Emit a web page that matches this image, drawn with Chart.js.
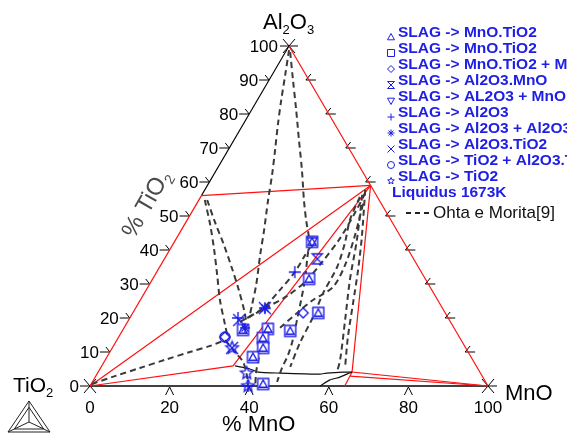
<!DOCTYPE html>
<html>
<head>
<meta charset="utf-8">
<script src="https://cdn.jsdelivr.net/npm/chart.js@4.4.1/dist/chart.umd.min.js"></script>
<style>
  html, body { margin: 0; padding: 0; background: #fff; }
</style>
</head>
<body>
<canvas id="myChart" width="567" height="436"></canvas>
<script>
// compositions are [MnO %, Al2O3 %] (TiO2 is the rest)
const FONT = '"Liberation Sans", Arial, sans-serif';
const BLUE = '#1e1ee6';

const leftLabels = [0, 10, 20, 30, 40, 50, 60, 70, 80, 90, 100];
const edgeTicks = [10, 20, 30, 40, 50, 60, 70, 80, 90];
const bottomLabels = [0, 20, 40, 60, 80, 100];
const bottomTicks = [20, 40, 60, 80];

const vTiO2 = [0, 0];
const vMnO = [100, 0];
const vAl2O3 = [0, 100];
const al2tio5 = [0, 56];
const mnal2o4 = [41, 59];
const peritectic = [33, 5.9];
const spinelPt = [63.8, 4.1];
const spinelPt2 = [63.9, 2.9];
const mn2tio4 = [64, 0];

const redLines = [
  [vTiO2, al2tio5],
  [vAl2O3, vMnO],
  [al2tio5, mnal2o4],
  [vTiO2, mnal2o4],
  [vTiO2, peritectic, mnal2o4],
  [mnal2o4, spinelPt, vMnO],
  [spinelPt, mn2tio4],
  [spinelPt2, vMnO]
];
const leftEdgeTop = [al2tio5, vAl2O3];
const bottomEdge = [vTiO2, vMnO];

const liquidusA = [[33.5, 5.9], [37.7, 5.0], [40.2, 4.1], [45.8, 3.8], [56.0, 3.5], [57.6, 3.8], [61.5, 4.1], [63.8, 4.1]];
const liquidusB = [[57.8, 0], [59.4, 1.8], [61.5, 2.6], [62.8, 3.5], [63.8, 4.1]];

// Ohta e Morita [9]
const ohta1 = [[0.6, 98.8], [3.3, 91.5], [6.0, 84.1], [8.8, 76.8], [11.8, 69.4], [14.7, 62.1], [17.4, 54.7], [20.8, 45.9], [23.5, 38.5], [26.9, 29.7], [28.8, 23.8], [30.0, 20.0]];
const ohta2 = [[1.2, 98.2], [6.0, 90.0], [11.2, 81.2], [16.3, 72.4], [21.5, 63.5], [26.4, 54.7], [29.9, 48.8], [33.6, 42.9], [36.0, 37.1], [38.4, 31.2], [40.4, 25.3], [42.3, 19.4], [44.2, 13.5], [45.2, 9.1], [45.6, 5.3], [46.4, 1.2]];
const ohta3 = [[1.5, 54.7], [6.5, 47.4], [11.2, 40.0], [15.6, 32.7], [20.0, 25.3], [25.0, 17.9], [27.6, 14.1]];
const ohta4 = [[2.1, 54.7], [7.3, 48.2], [12.9, 41.5], [18.3, 34.7], [23.3, 28.2], [27.5, 22.4], [29.5, 19.4]];
const ohta5 = [[0.2, 0.6], [4.8, 2.9], [9.9, 5.3], [15.0, 7.7], [20.1, 10.0], [24.3, 11.8], [27.2, 13.5]];
const ohta6 = [[27.2, 13.5], [31.4, 10.0], [34.9, 7.1], [37.8, 3.2], [39.7, 0]];
const ohta7 = [[29.5, 20.0], [32.9, 23.2], [36.3, 26.5], [38.7, 30.6], [40.1, 36.5], [41.1, 43.5], [41.1, 50.9], [40.8, 57.1]];
const ohta8 = [[39.2, 17.1], [41.3, 21.5], [43.4, 25.3], [46.5, 29.1], [46.3, 35.6], [44.4, 44.4], [41.5, 54.7]];
const ohta9 = [[40.3, 57.7], [46.4, 43.8], [50.3, 34.1], [53.9, 24.4], [57.6, 14.4], [61.3, 5.6]];
const ohta10 = [[40.3, 56.2], [45.6, 42.9], [49.7, 31.2], [54.4, 19.4], [59.0, 7.7], [60.0, 4.1]];
const ohta11 = [[40.0, 55.6], [40.9, 48.8], [43.0, 42.1], [44.6, 35.0], [44.9, 27.4], [45.9, 20.3], [46.4, 12.7], [47.5, 5.6]];
const ohta12 = [[28.3, 18.8], [32.0, 22.9], [33.6, 28.2], [34.7, 33.5], [34.8, 38.5], [35.0, 42.1]];
const ohta13 = [[36.3, 16.8], [36.7, 13.5], [38.2, 8.5], [39.7, 4.1], [41.5, 0]];

// experimental points
const trianglePts = [[34.6, 42.4], [39.3, 31.5], [36.3, 16.8], [42.2, 16.2], [46.6, 21.5], [30.2, 16.5], [36.4, 14.1], [37.9, 11.2], [36.7, 8.5], [43.2, 0.6]];
const squarePts = [[34.6, 42.4], [39.3, 31.5], [36.3, 16.8], [42.2, 16.2], [46.6, 21.5], [30.2, 16.5], [36.4, 14.1], [37.9, 11.2], [36.7, 8.5], [43.2, 0.6]];
const diamondPts = [[42.8, 21.5], [26.7, 14.4]];
const hourglassPts = [[38.4, 37.4]];
const invTrianglePts = [[34.6, 42.4]];
const plusPts = [[34.7, 33.5], [32.5, 22.9], [27.2, 20.0], [39.7, 0.0]];
const asteriskPts = [[32.5, 22.9], [30.4, 17.1]];
const crossPts = [[32.5, 22.9], [30.1, 11.2], [27.8, 19.4]];
const circlePts = [[26.7, 14.4]];
const starPts = [[30.1, 11.2], [37.5, 3.8], [39.7, 0.0]];

const legendItems = [
  ['triangle', 'SLAG -> MnO.TiO2'],
  ['rect', 'SLAG -> MnO.TiO2'],
  ['rectRot', 'SLAG -> MnO.TiO2 + MnO.Al2O3'],
  ['hourglass', 'SLAG -> Al2O3.MnO'],
  ['triangleDown', 'SLAG -> AL2O3 + MnO.Al2O3'],
  ['cross', 'SLAG -> Al2O3'],
  ['asterisk', 'SLAG -> Al2O3 + Al2O3.TiO2'],
  ['crossRot', 'SLAG -> Al2O3.TiO2'],
  ['circle', 'SLAG -> TiO2 + Al2O3.TiO2'],
  ['star5', 'SLAG -> TiO2'],
  [null, 'Liquidus 1673K']
];

const tern = p => ({ x: p[0] + p[1] / 2, y: p[1] });

function drawMarker(g, style, cx, cy, s) {
  g.beginPath();
  switch (style) {
    case 'triangle':
      g.moveTo(cx, cy - s); g.lineTo(cx + s, cy + s * 0.8); g.lineTo(cx - s, cy + s * 0.8); g.closePath(); break;
    case 'triangleDown':
      g.moveTo(cx, cy + s); g.lineTo(cx + s, cy - s * 0.8); g.lineTo(cx - s, cy - s * 0.8); g.closePath(); break;
    case 'rect':
      g.rect(cx - s, cy - s, 2 * s, 2 * s); g.fillStyle = '#fff'; g.fill(); break;
    case 'rectRot':
      g.moveTo(cx, cy - s); g.lineTo(cx + s, cy); g.lineTo(cx, cy + s); g.lineTo(cx - s, cy); g.closePath(); break;
    case 'hourglass':
      g.moveTo(cx - s, cy - s); g.lineTo(cx + s, cy - s); g.lineTo(cx - s, cy + s); g.lineTo(cx + s, cy + s); g.closePath(); break;
    case 'cross':
      g.moveTo(cx - s, cy); g.lineTo(cx + s, cy); g.moveTo(cx, cy - s); g.lineTo(cx, cy + s); break;
    case 'crossRot':
      g.moveTo(cx - s, cy - s); g.lineTo(cx + s, cy + s); g.moveTo(cx - s, cy + s); g.lineTo(cx + s, cy - s); break;
    case 'asterisk': {
      const d = s * 0.7;
      g.moveTo(cx - s, cy); g.lineTo(cx + s, cy); g.moveTo(cx, cy - s); g.lineTo(cx, cy + s);
      g.moveTo(cx - d, cy - d); g.lineTo(cx + d, cy + d); g.moveTo(cx - d, cy + d); g.lineTo(cx + d, cy - d); break;
    }
    case 'circle':
      g.arc(cx, cy, s, 0, Math.PI * 2); break;
    case 'star5':
      for (let i = 0; i < 10; i++) {
        const r = i % 2 ? s * 0.45 : s;
        const ang = -Math.PI / 2 + i * Math.PI / 5;
        const px = cx + r * Math.cos(ang), py = cy + r * Math.sin(ang);
        if (i === 0) g.moveTo(px, py); else g.lineTo(px, py);
      }
      g.closePath(); break;
  }
  g.stroke();
}

function icon(style, s) {
  const c = document.createElement('canvas');
  const n = Math.ceil(2 * s + 4);
  c.width = n; c.height = n;
  const g = c.getContext('2d');
  g.strokeStyle = BLUE; g.lineWidth = 1.4;
  drawMarker(g, style, n / 2, n / 2, s);
  return c;
}

function lineSet(pts, color, width, dash, tension, order) {
  return {
    data: pts.map(tern), showLine: true, borderColor: color, borderWidth: width,
    borderDash: dash || [], pointRadius: 0, tension: tension || 0, clip: false, fill: false, order: order
  };
}
function markSet(label, pts, style, s, order) {
  return { label: label, data: pts.map(tern), pointStyle: icon(style, s), pointRadius: 5, showLine: false, clip: false, order: order };
}

const datasets = [];
redLines.forEach(l => datasets.push(lineSet(l, '#ff1010', 1.2, null, 0, 5)));
datasets.push(lineSet(leftEdgeTop, '#000', 1.1, null, 0, 5));
datasets.push(lineSet(bottomEdge, '#000', 1.6, null, 0, 5));
datasets.push(lineSet(liquidusA, '#111', 1.2, null, 0.2, 4));
datasets.push(lineSet(liquidusB, '#111', 1.2, null, 0.2, 4));
[ohta1, ohta2, ohta3, ohta4, ohta5, ohta6, ohta7, ohta8, ohta9, ohta10, ohta11, ohta12, ohta13]
  .forEach(c => datasets.push(lineSet(c, '#3a3a3a', 2, [6, 4], 0.3, 3)));
datasets.push(markSet('SLAG -> MnO.TiO2', squarePts, 'rect', 5.5, 2));
datasets.push(markSet('SLAG -> MnO.TiO2', trianglePts, 'triangle', 4, 1));
datasets.push(markSet('SLAG -> MnO.TiO2 + MnO.Al2O3', diamondPts, 'rectRot', 5, 1));
datasets.push(markSet('SLAG -> Al2O3.MnO', hourglassPts, 'hourglass', 5, 1));
datasets.push(markSet('SLAG -> AL2O3 + MnO.Al2O3', invTrianglePts, 'triangleDown', 5, 1));
datasets.push(markSet('SLAG -> Al2O3', plusPts, 'cross', 6, 1));
datasets.push(markSet('SLAG -> Al2O3 + Al2O3.TiO2', asteriskPts, 'asterisk', 5, 1));
datasets.push(markSet('SLAG -> Al2O3.TiO2', crossPts, 'crossRot', 6, 1));
datasets.push(markSet('SLAG -> TiO2 + Al2O3.TiO2', circlePts, 'circle', 5, 1));
datasets.push(markSet('SLAG -> TiO2', starPts, 'star5', 6.5, 1));

function seg(ctx, x1, y1, x2, y2) {
  ctx.beginPath(); ctx.moveTo(x1, y1); ctx.lineTo(x2, y2); ctx.stroke();
}
function chem(ctx, parts, x, y, size) {
  let cx = x;
  parts.forEach(([t, sub]) => {
    ctx.font = (sub ? Math.round(size * 0.6) : size) + 'px ' + FONT;
    ctx.fillText(t, cx, sub ? y + size * 0.22 : y);
    cx += ctx.measureText(t).width;
  });
  return cx - x;
}

const decor = {
  id: 'decor',
  beforeDatasetsDraw(chart) {
    const ctx = chart.ctx, sx = chart.scales.x, sy = chart.scales.y;
    const P = (m, a) => [sx.getPixelForValue(m + a / 2), sy.getPixelForValue(a)];
    ctx.save();
    ctx.strokeStyle = '#000';
    ctx.lineWidth = 1;
    edgeTicks.forEach(a => {
      const [x, y] = P(0, a);
      seg(ctx, x - 10, y, x, y);
      seg(ctx, x - 4, y - 5, x, y);
      const [rx, ry] = P(100 - a, a);
      seg(ctx, rx - 3, ry, rx + 7, ry);
      seg(ctx, rx - 3, ry, rx + 2, ry - 6);
    });
    bottomTicks.forEach(m => {
      const [x, y] = P(m, 0);
      seg(ctx, x - 4, y + 9, x, y + 1);
      seg(ctx, x, y + 1, x + 4, y + 9);
    });
    [[vTiO2, -10, 0], [vAl2O3, -9, 9], [vMnO, 0, 9]].forEach(([v, l, r]) => {
      const [x, y] = P(v[0], v[1]);
      seg(ctx, x - 6, y - 7, x + 6, y + 7);
      seg(ctx, x - 6, y + 7, x + 6, y - 7);
      seg(ctx, x + l, y, x + r, y);
    });
    ctx.restore();
  },
  afterDraw(chart) {
    const ctx = chart.ctx, sx = chart.scales.x, sy = chart.scales.y;
    const P = (m, a) => [sx.getPixelForValue(m + a / 2), sy.getPixelForValue(a)];
    ctx.save();
    ctx.fillStyle = '#000';
    ctx.textBaseline = 'alphabetic';
    ctx.textAlign = 'left';
    chem(ctx, [['Al', 0], ['2', 1], ['O', 0], ['3', 1]], 263, 29, 22);
    chem(ctx, [['TiO', 0], ['2', 1]], 13, 392, 21);
    chem(ctx, [['MnO', 0]], 505, 400, 22);
    chem(ctx, [['% MnO', 0]], 222, 431, 22);

    // rotated axis title along the left edge
    ctx.save();
    ctx.translate(146, 203);
    ctx.rotate(-60 * Math.PI / 180);
    ctx.fillStyle = '#4a4a4a';
    ctx.font = '24px ' + FONT;
    const w = ctx.measureText('% TiO').width + 9;
    chem(ctx, [['% TiO', 0], ['2', 1]], -w / 2, 8, 24);
    ctx.restore();

    ctx.font = '17px ' + FONT;
    ctx.textAlign = 'right';
    ctx.textBaseline = 'middle';
    leftLabels.forEach(a => {
      const [x, y] = P(0, a);
      ctx.fillText(String(a), x - 11, y + 1);
    });
    ctx.textAlign = 'center';
    ctx.textBaseline = 'alphabetic';
    bottomLabels.forEach(m => {
      const [x] = P(m, 0);
      ctx.fillText(String(m), x, 413);
    });

    // legend
    ctx.textAlign = 'left';
    ctx.textBaseline = 'middle';
    ctx.font = 'bold 15.5px ' + FONT;
    legendItems.forEach(([style, text], i) => {
      const y = 33 + i * 16;
      ctx.fillStyle = BLUE;
      ctx.fillText(text, style ? 398 : 392, y);
      if (style) {
        ctx.strokeStyle = BLUE;
        ctx.lineWidth = 1;
        drawMarker(ctx, style, 391, y + 4, 3.5);
      }
    });
    ctx.strokeStyle = '#222';
    ctx.lineWidth = 2;
    [406, 415, 424].forEach(x => seg(ctx, x, 213, x + 5, 213));
    ctx.fillStyle = '#111';
    ctx.font = '17px ' + FONT;
    ctx.fillText('Ohta e Morita[9]', 433, 213);

    // small ternary logo
    ctx.strokeStyle = '#222';
    ctx.lineWidth = 1;
    const A = [29, 401], B = [8, 432], C = [50, 432], G = [29, 422];
    ctx.beginPath(); ctx.moveTo(...A); ctx.lineTo(...B); ctx.lineTo(...C); ctx.closePath(); ctx.stroke();
    const inner = [A, B, C].map(p => [G[0] + (p[0] - G[0]) * 0.7, G[1] + (p[1] - G[1]) * 0.7]);
    ctx.beginPath(); ctx.moveTo(...inner[0]); ctx.lineTo(...inner[1]); ctx.lineTo(...inner[2]); ctx.closePath(); ctx.stroke();
    [A, B, C].forEach(p => seg(ctx, G[0], G[1], p[0], p[1]));
    ctx.restore();
  }
};

new Chart(document.getElementById('myChart'), {
  type: 'scatter',
  data: { datasets: datasets },
  options: {
    responsive: false,
    animation: false,
    events: [],
    layout: { padding: { left: 90, right: 79, top: 46, bottom: 50 } },
    scales: {
      x: { type: 'linear', min: 0, max: 100, display: false },
      y: { type: 'linear', min: 0, max: 100, display: false }
    },
    plugins: { legend: { display: false }, tooltip: { enabled: false } }
  },
  plugins: [decor]
});
</script>
</body>
</html>
